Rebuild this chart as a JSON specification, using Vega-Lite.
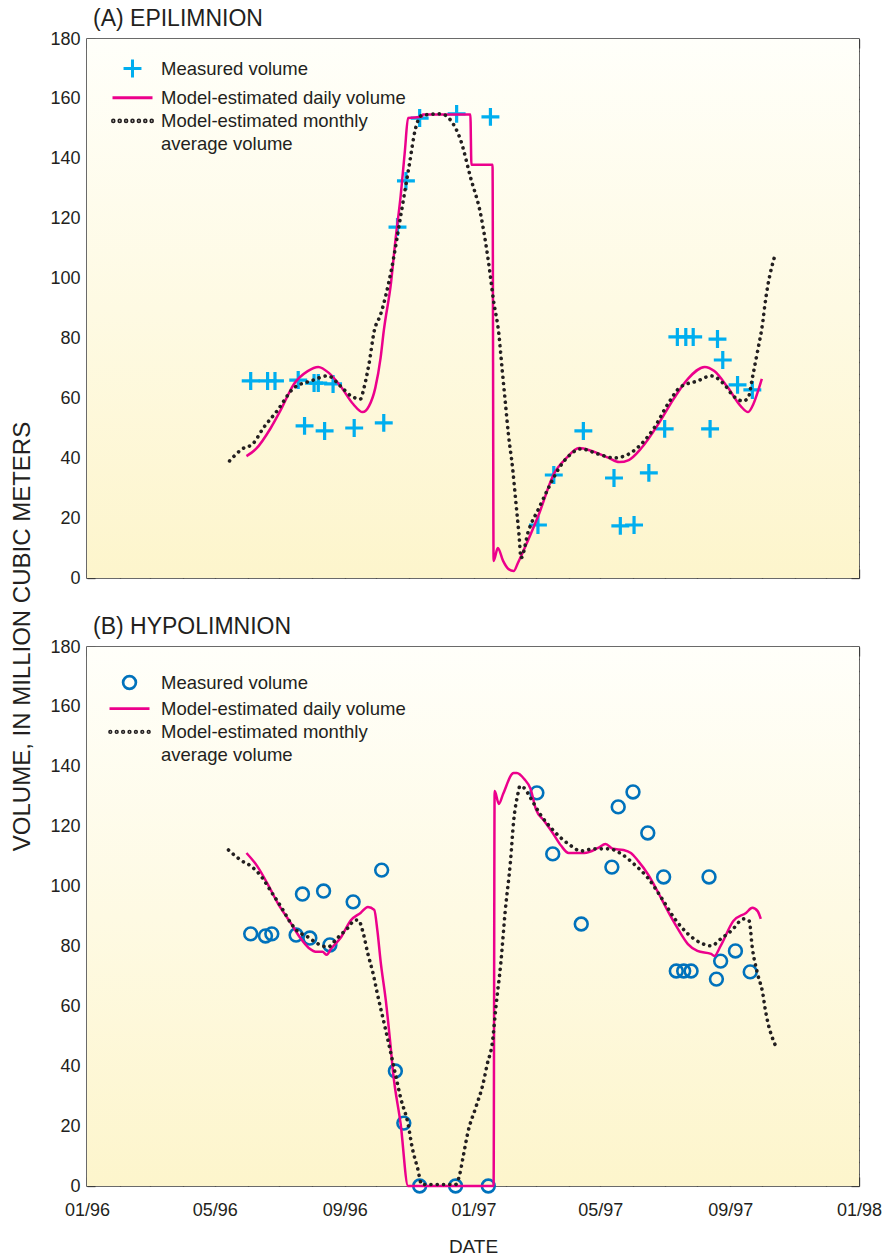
{
  "$schema": "https://vega.github.io/schema/vega-lite/v6.json",
  "background": "white",
  "padding": {"left": 9, "top": 7, "right": 0, "bottom": 0},
  "config": {
    "font": "Liberation Sans",
    "view": {"stroke": "#3a3a3a", "strokeWidth": 1.5},
    "axis": {"domain": false, "grid": false, "tickColor": "#3a3a3a", "tickWidth": 1.3, "labelFont": "Liberation Sans", "labelFontSize": 18, "labelColor": "#231f20", "titleFont": "Liberation Sans", "titleFontWeight": "normal", "titleColor": "#231f20", "labelOverlap": false, "labelFlush": false, "minExtent": 0},
    "legend": {"title": null, "orient": "top-left", "padding": 0, "symbolSize": 256, "rowPadding": 4.2, "labelFontSize": 18.5, "labelFont": "Liberation Sans", "labelColor": "#231f20", "labelLimit": 500, "symbolFillColor": "transparent"},
    "title": {"font": "Liberation Sans", "fontSize": 23, "fontWeight": "normal", "color": "#231f20", "anchor": "start", "frame": "group"}
  },
  "datasets": {
    "epiMeasured": [
      {"date":"1996-06-04","volume":65.8},{"date":"1996-06-20","volume":65.8},{"date":"1996-06-27","volume":65.8},{"date":"1996-07-19","volume":66.1},{"date":"1996-07-25","volume":50.8},{"date":"1996-08-03","volume":65.1},{"date":"1996-08-07","volume":65.1},{"date":"1996-08-13","volume":49.1},{"date":"1996-08-21","volume":64.8},{"date":"1996-09-10","volume":50.1},{"date":"1996-10-08","volume":51.8},{"date":"1996-10-21","volume":117.2},{"date":"1996-10-29","volume":132.6},{"date":"1996-11-11","volume":153.6},{"date":"1996-12-16","volume":155.0},{"date":"1997-01-17","volume":154.0},{"date":"1997-03-03","volume":17.7},{"date":"1997-03-18","volume":34.4},{"date":"1997-04-15","volume":49.1},{"date":"1997-05-14","volume":33.4},{"date":"1997-05-20","volume":17.4},{"date":"1997-06-02","volume":17.7},{"date":"1997-06-16","volume":35.1},{"date":"1997-07-01","volume":49.8},{"date":"1997-07-13","volume":80.5},{"date":"1997-07-21","volume":80.5},{"date":"1997-07-28","volume":80.5},{"date":"1997-08-13","volume":49.8},{"date":"1997-08-20","volume":79.8},{"date":"1997-08-25","volume":72.8},{"date":"1997-09-08","volume":64.5},{"date":"1997-09-22","volume":62.8}
    ],
    "epiDaily": [
      {"date":"1996-05-31","volume":40.7},{"date":"1996-06-09","volume":43.1},{"date":"1996-06-23","volume":50.1},{"date":"1996-07-02","volume":55.8},{"date":"1996-07-15","volume":64.8},{"date":"1996-07-28","volume":69.1},{"date":"1996-08-07","volume":70.5},{"date":"1996-08-17","volume":68.5},{"date":"1996-08-28","volume":64.1},{"date":"1996-09-09","volume":58.1},{"date":"1996-09-18","volume":55.4},{"date":"1996-09-24","volume":57.4},{"date":"1996-09-30","volume":63.5},{"date":"1996-10-05","volume":73.5},{"date":"1996-10-08","volume":82.5},{"date":"1996-10-15","volume":99},{"date":"1996-10-19","volume":112.6},{"date":"1996-10-24","volume":127.6},{"date":"1996-10-28","volume":142.6},{"date":"1996-10-31","volume":153.6},{"date":"1996-11-13","volume":154},{"date":"1996-11-14","volume":154.8},{"date":"1996-12-29","volume":154.8},{"date":"1996-12-30","volume":138},{"date":"1997-01-19","volume":138},{"date":"1997-01-20","volume":5.7},{"date":"1997-01-24","volume":10},{"date":"1997-01-29","volume":5.7},{"date":"1997-02-03","volume":3},{"date":"1997-02-08","volume":2.3},{"date":"1997-02-12","volume":5},{"date":"1997-02-18","volume":9.7},{"date":"1997-03-04","volume":21.4},{"date":"1997-03-18","volume":34.7},{"date":"1997-03-30","volume":40.1},{"date":"1997-04-11","volume":43.4},{"date":"1997-04-23","volume":42.4},{"date":"1997-05-09","volume":40.1},{"date":"1997-05-19","volume":38.7},{"date":"1997-05-28","volume":39.4},{"date":"1997-06-09","volume":43.4},{"date":"1997-06-25","volume":51.4},{"date":"1997-07-10","volume":60.1},{"date":"1997-07-23","volume":66.5},{"date":"1997-08-08","volume":70.5},{"date":"1997-08-17","volume":69.1},{"date":"1997-08-30","volume":63.5},{"date":"1997-09-11","volume":57.4},{"date":"1997-09-18","volume":55.4},{"date":"1997-09-23","volume":58.1},{"date":"1997-09-28","volume":63.1},{"date":"1997-10-01","volume":66.5}
    ],
    "epiMonthly": [
      {"date":"1996-05-15","volume":39.1},{"date":"1996-05-27","volume":43.1},{"date":"1996-06-06","volume":44.8},{"date":"1996-06-16","volume":50.1},{"date":"1996-06-29","volume":55.8},{"date":"1996-07-15","volume":63.5},{"date":"1996-07-31","volume":65.8},{"date":"1996-08-16","volume":67.5},{"date":"1996-08-28","volume":64.1},{"date":"1996-09-07","volume":60.8},{"date":"1996-09-16","volume":59.8},{"date":"1996-09-19","volume":63.1},{"date":"1996-09-24","volume":71.5},{"date":"1996-09-29","volume":82.5},{"date":"1996-10-05","volume":88},{"date":"1996-10-15","volume":102.5},{"date":"1996-10-24","volume":120.9},{"date":"1996-11-01","volume":137.6},{"date":"1996-11-07","volume":150},{"date":"1996-11-13","volume":154.5},{"date":"1996-12-01","volume":155},{"date":"1996-12-10","volume":153},{"date":"1996-12-20","volume":146},{"date":"1996-12-29","volume":134},{"date":"1997-01-08","volume":121},{"date":"1997-01-15","volume":106},{"date":"1997-01-20","volume":92.5},{"date":"1997-01-25","volume":81.5},{"date":"1997-01-28","volume":70.1},{"date":"1997-01-31","volume":59.1},{"date":"1997-02-03","volume":48.1},{"date":"1997-02-07","volume":36.7},{"date":"1997-02-10","volume":25.7},{"date":"1997-02-13","volume":14.7},{"date":"1997-02-15","volume":6.7},{"date":"1997-02-22","volume":15.7},{"date":"1997-03-04","volume":23.4},{"date":"1997-03-13","volume":30.1},{"date":"1997-03-23","volume":36.7},{"date":"1997-04-01","volume":40.7},{"date":"1997-04-13","volume":43.1},{"date":"1997-04-29","volume":41.4},{"date":"1997-05-14","volume":40.1},{"date":"1997-05-28","volume":41.4},{"date":"1997-06-09","volume":44.8},{"date":"1997-06-21","volume":50.1},{"date":"1997-07-04","volume":58.1},{"date":"1997-07-16","volume":63.8},{"date":"1997-08-01","volume":65.8},{"date":"1997-08-14","volume":67.5},{"date":"1997-08-26","volume":64.8},{"date":"1997-09-04","volume":60.8},{"date":"1997-09-13","volume":59.1},{"date":"1997-09-18","volume":60.1},{"date":"1997-09-22","volume":66.8},{"date":"1997-09-27","volume":75.8},{"date":"1997-10-02","volume":85.8},{"date":"1997-10-04","volume":91.5},{"date":"1997-10-14","volume":108.5}
    ],
    "hypoMeasured": [
      {"date":"1996-06-04","volume":84.2},{"date":"1996-06-18","volume":83.5},{"date":"1996-06-24","volume":84.2},{"date":"1996-07-17","volume":83.8},{"date":"1996-07-23","volume":97.5},{"date":"1996-07-30","volume":82.8},{"date":"1996-08-12","volume":98.5},{"date":"1996-08-18","volume":80.5},{"date":"1996-09-09","volume":94.9},{"date":"1996-10-06","volume":105.5},{"date":"1996-10-19","volume":38.4},{"date":"1996-10-27","volume":21.0},{"date":"1996-11-11","volume":0},{"date":"1996-12-15","volume":0},{"date":"1997-01-15","volume":0},{"date":"1997-03-02","volume":131.3},{"date":"1997-03-17","volume":110.9},{"date":"1997-04-13","volume":87.5},{"date":"1997-05-12","volume":106.5},{"date":"1997-05-18","volume":126.6},{"date":"1997-06-01","volume":131.6},{"date":"1997-06-15","volume":117.9},{"date":"1997-06-30","volume":103.2},{"date":"1997-07-12","volume":71.8},{"date":"1997-07-19","volume":71.8},{"date":"1997-07-26","volume":71.8},{"date":"1997-08-12","volume":103.2},{"date":"1997-08-19","volume":69.1},{"date":"1997-08-23","volume":75.1},{"date":"1997-09-06","volume":78.5},{"date":"1997-09-20","volume":71.5}
    ],
    "hypoDaily": [
      {"date":"1996-05-31","volume":111.2},{"date":"1996-06-10","volume":106.9},{"date":"1996-06-20","volume":100.9},{"date":"1996-06-30","volume":94.2},{"date":"1996-07-12","volume":87.8},{"date":"1996-07-21","volume":82.8},{"date":"1996-07-29","volume":79.5},{"date":"1996-08-06","volume":78.2},{"date":"1996-08-11","volume":78.2},{"date":"1996-08-15","volume":77.2},{"date":"1996-08-19","volume":79.2},{"date":"1996-08-28","volume":82.8},{"date":"1996-09-07","volume":88.8},{"date":"1996-09-16","volume":91.2},{"date":"1996-09-23","volume":93.2},{"date":"1996-09-29","volume":92.2},{"date":"1996-10-02","volume":85.2},{"date":"1996-10-05","volume":75.1},{"date":"1996-10-10","volume":61.8},{"date":"1996-10-14","volume":48.4},{"date":"1996-10-17","volume":37.4},{"date":"1996-10-24","volume":20.7},{"date":"1996-10-31","volume":0},{"date":"1997-01-20","volume":0},{"date":"1997-01-21","volume":131.9},{"date":"1997-01-25","volume":127.6},{"date":"1997-01-29","volume":130.9},{"date":"1997-02-08","volume":137.9},{"date":"1997-02-11","volume":137.9},{"date":"1997-02-18","volume":135.9},{"date":"1997-02-24","volume":132.6},{"date":"1997-03-01","volume":125.9},{"date":"1997-03-09","volume":121.9},{"date":"1997-03-17","volume":117.9},{"date":"1997-03-25","volume":113.6},{"date":"1997-04-01","volume":111.2},{"date":"1997-04-16","volume":111.2},{"date":"1997-04-29","volume":112.9},{"date":"1997-05-06","volume":114.2},{"date":"1997-05-13","volume":112.6},{"date":"1997-05-23","volume":112.2},{"date":"1997-05-30","volume":111.2},{"date":"1997-06-06","volume":108.5},{"date":"1997-06-15","volume":104.2},{"date":"1997-06-25","volume":97.9},{"date":"1997-07-04","volume":91.8},{"date":"1997-07-13","volume":86.2},{"date":"1997-07-23","volume":80.8},{"date":"1997-08-01","volume":78.5},{"date":"1997-08-14","volume":77.5},{"date":"1997-08-17","volume":76.8},{"date":"1997-08-23","volume":80.2},{"date":"1997-09-04","volume":88.5},{"date":"1997-09-16","volume":91.2},{"date":"1997-09-22","volume":92.9},{"date":"1997-09-27","volume":91.8},{"date":"1997-09-30","volume":89.2}
    ],
    "hypoMonthly": [
      {"date":"1996-05-14","volume":112.2},{"date":"1996-05-27","volume":108.5},{"date":"1996-06-04","volume":106.9},{"date":"1996-06-15","volume":102.9},{"date":"1996-06-23","volume":98.5},{"date":"1996-07-04","volume":92.5},{"date":"1996-07-12","volume":87.8},{"date":"1996-07-18","volume":85.2},{"date":"1996-07-28","volume":83.2},{"date":"1996-08-07","volume":80.8},{"date":"1996-08-16","volume":79.8},{"date":"1996-08-25","volume":82.8},{"date":"1996-09-04","volume":86.2},{"date":"1996-09-11","volume":88.8},{"date":"1996-09-14","volume":88.8},{"date":"1996-09-18","volume":85.2},{"date":"1996-09-23","volume":77.5},{"date":"1996-09-28","volume":70.8},{"date":"1996-10-02","volume":64.1},{"date":"1996-10-10","volume":51.8},{"date":"1996-10-19","volume":37.4},{"date":"1996-10-24","volume":29.4},{"date":"1996-10-31","volume":20.7},{"date":"1996-11-04","volume":12.7},{"date":"1996-11-09","volume":6},{"date":"1996-11-13","volume":0.5},{"date":"1996-12-15","volume":0.5},{"date":"1996-12-19","volume":4},{"date":"1996-12-22","volume":9.4},{"date":"1996-12-27","volume":18.4},{"date":"1997-01-03","volume":26.1},{"date":"1997-01-10","volume":34.1},{"date":"1997-01-14","volume":40.7},{"date":"1997-01-19","volume":48.4},{"date":"1997-01-22","volume":59.1},{"date":"1997-01-27","volume":75.1},{"date":"1997-01-31","volume":91.8},{"date":"1997-02-05","volume":108.5},{"date":"1997-02-08","volume":121.9},{"date":"1997-02-12","volume":130.9},{"date":"1997-02-14","volume":133.6},{"date":"1997-02-18","volume":132.9},{"date":"1997-02-24","volume":129.6},{"date":"1997-03-05","volume":124.2},{"date":"1997-03-18","volume":118.6},{"date":"1997-04-01","volume":114.2},{"date":"1997-04-13","volume":111.9},{"date":"1997-04-25","volume":112.6},{"date":"1997-05-09","volume":112.6},{"date":"1997-05-21","volume":110.9},{"date":"1997-06-02","volume":107.5},{"date":"1997-06-15","volume":102.9},{"date":"1997-06-28","volume":96.2},{"date":"1997-07-10","volume":89.5},{"date":"1997-07-23","volume":84.2},{"date":"1997-08-04","volume":81.2},{"date":"1997-08-14","volume":80.2},{"date":"1997-08-23","volume":82.5},{"date":"1997-09-02","volume":85.2},{"date":"1997-09-14","volume":89.2},{"date":"1997-09-19","volume":88.5},{"date":"1997-09-22","volume":79.5},{"date":"1997-09-27","volume":70.8},{"date":"1997-10-02","volume":64.1},{"date":"1997-10-04","volume":59.5},{"date":"1997-10-14","volume":46.8}
    ]
  },
  "spacing": 69,
  "bounds": "flush",
  "resolve": {"scale": {"color": "independent", "shape": "independent"}, "legend": {"color": "independent", "shape": "independent"}},
  "vconcat": [
    {
      "title": {"text": "(A) EPILIMNION", "dx": 6, "offset": -19, "baseline": "alphabetic"},
      "width": 772,
      "height": 539,
      "resolve": {"axis": {"x": "independent", "y": "independent"}},
      "layer": [
        {
          "data": {"values": [{"panel": "A"}]},
          "mark": {"type": "rect", "color": {"gradient": "linear", "x1": 0, "y1": 0, "x2": 0, "y2": 1, "stops": [{"offset": 0, "color": "#fffffa"}, {"offset": 1, "color": "#fdf5cc"}]}},
          "encoding": {}
        },
        {
          "data": {"name": "epiMeasured"},
          "mark": {"type": "point", "filled": false, "size": 256, "strokeWidth": 3.2, "opacity": 1},
          "encoding": {
            "x": {"field": "date", "type": "temporal", "scale": {"type": "utc", "domain": [{"year": 1996, "month": 1, "date": 1, "utc": true}, {"year": 1998, "month": 1, "date": 1, "utc": true}]},
              "axis": {"orient": "bottom", "labels": false, "title": null, "maxExtent": 0, "tickCount": {"interval": "month", "step": 1}, "tickSize": {"condition": {"test": "utcmonth(datum.value) % 4 == 0", "value": -9}, "value": -6}}},
            "y": {"field": "volume", "type": "quantitative", "scale": {"domain": [0, 180], "nice": false, "zero": false},
              "axis": {"orient": "left", "values": [0,4,8,12,16,20,24,28,32,36,40,44,48,52,56,60,64,68,72,76,80,84,88,92,96,100,104,108,112,116,120,124,128,132,136,140,144,148,152,156,160,164,168,172,176,180],
                "labelExpr": "datum.value % 20 == 0 ? datum.label : ''", "tickSize": {"condition": {"test": "datum.value % 20 == 0", "value": -8}, "value": -5}, "labelPadding": 15,
                "title": "VOLUME, IN MILLION CUBIC METERS", "titleFontSize": 24, "titleAngle": 270, "titleAlign": "center", "titleBaseline": "alphabetic", "titleX": -58, "titleY": 597}},
            "color": {"datum": "Measured volume", "type": "nominal",
              "scale": {"domain": ["Measured volume", "Model-estimated daily volume", "Model-estimated monthly average volume", "average volume (cont.)"], "range": ["#00aeef", "#ec008c", "#231f20", "#ffffff"]},
              "legend": {"offset": 20, "symbolOffset": 16, "labelOffset": 19, "symbolStrokeWidth": 3,
                "labelExpr": "datum.value == 'Model-estimated monthly average volume' ? 'Model-estimated monthly' : (datum.value == 'average volume (cont.)' ? '\u00a0\u00a0average volume' : datum.label)"}},
            "shape": {"datum": "Measured volume", "type": "nominal",
              "scale": {"domain": ["Measured volume", "Model-estimated daily volume", "Model-estimated monthly average volume", "average volume (cont.)"], "range": ["M-1.12,0H1.12M0,-1.12V1.12", "M-2.5,0H2.5", "M-2.5,0a0.1,0.1 0 1,0 0.2,0a0.1,0.1 0 1,0 -0.2,0M-1.7,0a0.1,0.1 0 1,0 0.2,0a0.1,0.1 0 1,0 -0.2,0M-0.9,0a0.1,0.1 0 1,0 0.2,0a0.1,0.1 0 1,0 -0.2,0M-0.1,0a0.1,0.1 0 1,0 0.2,0a0.1,0.1 0 1,0 -0.2,0M0.7,0a0.1,0.1 0 1,0 0.2,0a0.1,0.1 0 1,0 -0.2,0M1.5,0a0.1,0.1 0 1,0 0.2,0a0.1,0.1 0 1,0 -0.2,0M2.3,0a0.1,0.1 0 1,0 0.2,0a0.1,0.1 0 1,0 -0.2,0", "M0,0"]},
              "legend": {"offset": 20, "symbolOffset": 16, "labelOffset": 19, "symbolStrokeWidth": 3,
                "labelExpr": "datum.value == 'Model-estimated monthly average volume' ? 'Model-estimated monthly' : (datum.value == 'average volume (cont.)' ? '\u00a0\u00a0average volume' : datum.label)"}}
          }
        },
        {
          "data": {"name": "epiDaily"},
          "mark": {"type": "line", "strokeWidth": 2.5, "interpolate": "monotone"},
          "encoding": {
            "x": {"field": "date", "type": "temporal", "axis": {"orient": "top", "labels": false, "title": null, "maxExtent": 0, "tickCount": {"interval": "month", "step": 1}, "tickSize": {"condition": {"test": "utcmonth(datum.value) % 4 == 0", "value": -9}, "value": -6}}},
            "y": {"field": "volume", "type": "quantitative", "axis": {"orient": "right", "labels": false, "title": null, "maxExtent": 0, "values": [0,4,8,12,16,20,24,28,32,36,40,44,48,52,56,60,64,68,72,76,80,84,88,92,96,100,104,108,112,116,120,124,128,132,136,140,144,148,152,156,160,164,168,172,176,180], "tickSize": {"condition": {"test": "datum.value % 20 == 0", "value": -8}, "value": -5}}},
            "color": {"datum": "Model-estimated daily volume", "type": "nominal"}
          }
        },
        {
          "data": {"name": "epiMonthly"},
          "mark": {"type": "line", "strokeWidth": 3.6, "strokeDash": [0.1, 6.2], "strokeCap": "round", "interpolate": "monotone"},
          "encoding": {
            "x": {"field": "date", "type": "temporal", "axis": null},
            "y": {"field": "volume", "type": "quantitative", "axis": null},
            "color": {"datum": "Model-estimated monthly average volume", "type": "nominal"}
          }
        }
      ]
    },
    {
      "title": {"text": "(B) HYPOLIMNION", "dx": 6, "offset": -19, "baseline": "alphabetic"},
      "width": 772,
      "height": 539,
      "resolve": {"axis": {"x": "independent", "y": "independent"}},
      "layer": [
        {
          "data": {"values": [{"panel": "B"}]},
          "mark": {"type": "rect", "color": {"gradient": "linear", "x1": 0, "y1": 0, "x2": 0, "y2": 1, "stops": [{"offset": 0, "color": "#fffffa"}, {"offset": 1, "color": "#fdf5cc"}]}},
          "encoding": {}
        },
        {
          "data": {"name": "hypoMeasured"},
          "mark": {"type": "point", "filled": false, "size": 256, "strokeWidth": 2.6, "opacity": 1},
          "encoding": {
            "x": {"field": "date", "type": "temporal", "scale": {"type": "utc", "domain": [{"year": 1996, "month": 1, "date": 1, "utc": true}, {"year": 1998, "month": 1, "date": 1, "utc": true}]},
              "axis": {"orient": "bottom", "tickCount": {"interval": "month", "step": 1}, "labelExpr": "utcmonth(datum.value) % 4 == 0 ? utcFormat(datum.value, '%m/%y') : ''", "tickSize": {"condition": {"test": "utcmonth(datum.value) % 4 == 0", "value": -9}, "value": -6}, "labelPadding": 24,
                "title": "DATE", "titleFontSize": 19, "titleBaseline": "alphabetic", "titleY": 66}},
            "y": {"field": "volume", "type": "quantitative", "scale": {"domain": [0, 180], "nice": false, "zero": false},
              "axis": {"orient": "left", "values": [0,4,8,12,16,20,24,28,32,36,40,44,48,52,56,60,64,68,72,76,80,84,88,92,96,100,104,108,112,116,120,124,128,132,136,140,144,148,152,156,160,164,168,172,176,180],
                "labelExpr": "datum.value % 20 == 0 ? datum.label : ''", "tickSize": {"condition": {"test": "datum.value % 20 == 0", "value": -8}, "value": -5}, "labelPadding": 15, "title": null}},
            "color": {"datum": "Measured volume", "type": "nominal",
              "scale": {"domain": ["Measured volume", "Model-estimated daily volume", "Model-estimated monthly average volume", "average volume (cont.)"], "range": ["#0072bc", "#ec008c", "#231f20", "#ffffff"]},
              "legend": {"offset": 26, "symbolOffset": 7, "labelOffset": 22, "symbolStrokeWidth": 2.7,
                "labelExpr": "datum.value == 'Model-estimated monthly average volume' ? 'Model-estimated monthly' : (datum.value == 'average volume (cont.)' ? '\u00a0\u00a0average volume' : datum.label)"}},
            "shape": {"datum": "Measured volume", "type": "nominal",
              "scale": {"domain": ["Measured volume", "Model-estimated daily volume", "Model-estimated monthly average volume", "average volume (cont.)"], "range": ["M-0.8,0A0.8,0.8,0,1,1,0.8,0A0.8,0.8,0,1,1,-0.8,0Z", "M-2.5,0H2.5", "M-2.5,0a0.1,0.1 0 1,0 0.2,0a0.1,0.1 0 1,0 -0.2,0M-1.7,0a0.1,0.1 0 1,0 0.2,0a0.1,0.1 0 1,0 -0.2,0M-0.9,0a0.1,0.1 0 1,0 0.2,0a0.1,0.1 0 1,0 -0.2,0M-0.1,0a0.1,0.1 0 1,0 0.2,0a0.1,0.1 0 1,0 -0.2,0M0.7,0a0.1,0.1 0 1,0 0.2,0a0.1,0.1 0 1,0 -0.2,0M1.5,0a0.1,0.1 0 1,0 0.2,0a0.1,0.1 0 1,0 -0.2,0M2.3,0a0.1,0.1 0 1,0 0.2,0a0.1,0.1 0 1,0 -0.2,0", "M0,0"]},
              "legend": {"offset": 26, "symbolOffset": 7, "labelOffset": 22, "symbolStrokeWidth": 2.7,
                "labelExpr": "datum.value == 'Model-estimated monthly average volume' ? 'Model-estimated monthly' : (datum.value == 'average volume (cont.)' ? '\u00a0\u00a0average volume' : datum.label)"}}
          }
        },
        {
          "data": {"name": "hypoDaily"},
          "mark": {"type": "line", "strokeWidth": 2.5, "interpolate": "monotone"},
          "encoding": {
            "x": {"field": "date", "type": "temporal", "axis": {"orient": "top", "labels": false, "title": null, "maxExtent": 0, "tickCount": {"interval": "month", "step": 1}, "tickSize": {"condition": {"test": "utcmonth(datum.value) % 4 == 0", "value": -9}, "value": -6}}},
            "y": {"field": "volume", "type": "quantitative", "axis": {"orient": "right", "labels": false, "title": null, "maxExtent": 0, "values": [0,4,8,12,16,20,24,28,32,36,40,44,48,52,56,60,64,68,72,76,80,84,88,92,96,100,104,108,112,116,120,124,128,132,136,140,144,148,152,156,160,164,168,172,176,180], "tickSize": {"condition": {"test": "datum.value % 20 == 0", "value": -8}, "value": -5}}},
            "color": {"datum": "Model-estimated daily volume", "type": "nominal"}
          }
        },
        {
          "data": {"name": "hypoMonthly"},
          "mark": {"type": "line", "strokeWidth": 3.6, "strokeDash": [0.1, 6.2], "strokeCap": "round", "interpolate": "monotone"},
          "encoding": {
            "x": {"field": "date", "type": "temporal", "axis": null},
            "y": {"field": "volume", "type": "quantitative", "axis": null},
            "color": {"datum": "Model-estimated monthly average volume", "type": "nominal"}
          }
        }
      ]
    }
  ]
}
